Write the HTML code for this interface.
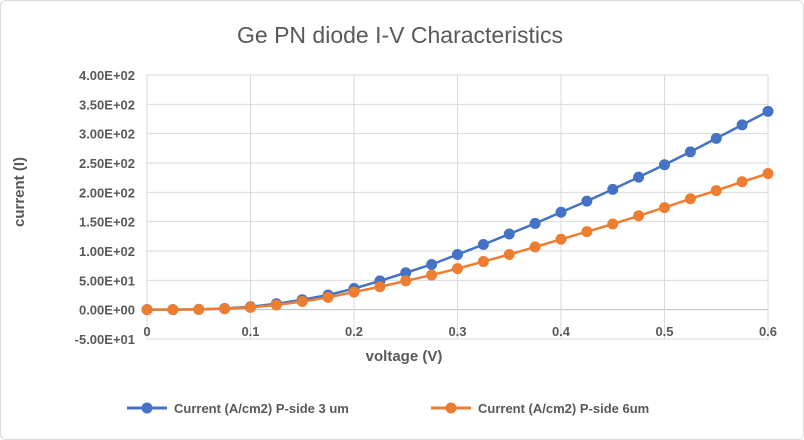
<!DOCTYPE html>
<html><head><meta charset="utf-8"><style>
body{margin:0;background:#fff;}
svg{display:block;font-family:"Liberation Sans",sans-serif;}
</style></head><body>
<svg id="chart" width="804" height="440" viewBox="0 0 804 440">
<rect x="0.5" y="0.5" width="803" height="439" rx="6" fill="#fff" stroke="#d9d9d9"/>
<text x="400" y="43" text-anchor="middle" font-size="23" fill="#595959">Ge PN diode I-V Characteristics</text>
<g id="grid"></g>
<g id="axes"></g>
<g id="series"></g>
<text x="404" y="361" text-anchor="middle" font-size="15" font-weight="bold" fill="#595959">voltage (V)</text>
<text transform="translate(24,192) rotate(-90)" text-anchor="middle" font-size="15" font-weight="bold" fill="#595959">current (I)</text>
<g>
<g>
<line x1="127" y1="408" x2="167" y2="408" stroke="#4472c4" stroke-width="3"/>
<circle cx="147" cy="408" r="5.5" fill="#4472c4"/>
<text x="174" y="413" font-size="13" font-weight="bold" fill="#595959">Current (A/cm2) P-side 3 um</text>
</g>
<g>
<line x1="431" y1="408" x2="471" y2="408" stroke="#ed7d31" stroke-width="3"/>
<circle cx="451" cy="408" r="5.5" fill="#ed7d31"/>
<text x="478" y="413" font-size="13" font-weight="bold" fill="#595959">Current (A/cm2) P-side 6um</text>
</g>
</g>
</svg>
<script>
const voltages=[0,0.025,0.05,0.075,0.1,0.125,0.15,0.175,0.2,0.225,0.25,0.275,0.3,0.325,0.35,0.375,0.4,0.425,0.45,0.475,0.5,0.525,0.55,0.575,0.6];
const current3um=[0,0,0.5,2,5,10,17,25,36,49,63,77,94,111,129,147,166,185,205,226,247,269,292,315,338];
const current6um=[0,0,0.4,1.5,4,8,14,21,30,39,49,59,70,82,94,107,120,133,146,160,174,189,203,218,232];
const yTicks=[-50,0,50,100,150,200,250,300,350,400];
const yTickLabels=["-5.00E+01","0.00E+00","5.00E+01","1.00E+02","1.50E+02","2.00E+02","2.50E+02","3.00E+02","3.50E+02","4.00E+02"];
const xTicks=[0,0.1,0.2,0.3,0.4,0.5,0.6];
const xTickLabels=["0","0.1","0.2","0.3","0.4","0.5","0.6"];
const NS="http://www.w3.org/2000/svg";
const X0=147,X1=768,Y0=339,Y1=75;
function xs(v){return X0+(v-0)/(0.6-0)*(X1-X0);}
function ys(v){return Y0-(v+50)/450*(Y0-Y1);}
function mk(tag,attrs,parent){const e=document.createElementNS(NS,tag);for(const k in attrs)e.setAttribute(k,attrs[k]);parent.appendChild(e);return e;}
const grid=document.getElementById('grid'),axes=document.getElementById('axes'),ser=document.getElementById('series');
yTicks.forEach((t,i)=>{
  const l=mk('line',{x1:X0,x2:X1,y1:ys(t),y2:ys(t),stroke:t===0?'#bfbfbf':'#d9d9d9','stroke-width':1},grid);
  
  
  const tx=mk('text',{x:135,y:ys(t)+5,'text-anchor':'end','font-size':13,'font-weight':'bold',fill:'#595959'},axes);
  tx.textContent=yTickLabels[i];
  
  
});
xTicks.forEach((t,i)=>{
  const l=mk('line',{x1:xs(t),x2:xs(t),y1:Y1,y2:Y0,stroke:'#d9d9d9','stroke-width':1},grid);
  
  
  const tx=mk('text',{x:xs(t),y:336,'text-anchor':'middle','font-size':13,'font-weight':'bold',fill:'#595959'},axes);
  tx.textContent=xTickLabels[i];
  
  
});
function drawSeries(vals,color,name){
  const g=mk('g',{},ser);
  
  
  const pl=mk('polyline',{points:vals.map((v,i)=>xs(voltages[i])+','+ys(v)).join(' '),fill:'none',stroke:color,'stroke-width':2.5},g);
  
  
  vals.forEach((v,i)=>{
    const c=mk('circle',{cx:xs(voltages[i]),cy:ys(v),r:5.5,fill:color},g);
    
    
  });
}
drawSeries(current3um,'#4472c4','series-3um');
drawSeries(current6um,'#ed7d31','series-6um');
</script>
</body></html>
